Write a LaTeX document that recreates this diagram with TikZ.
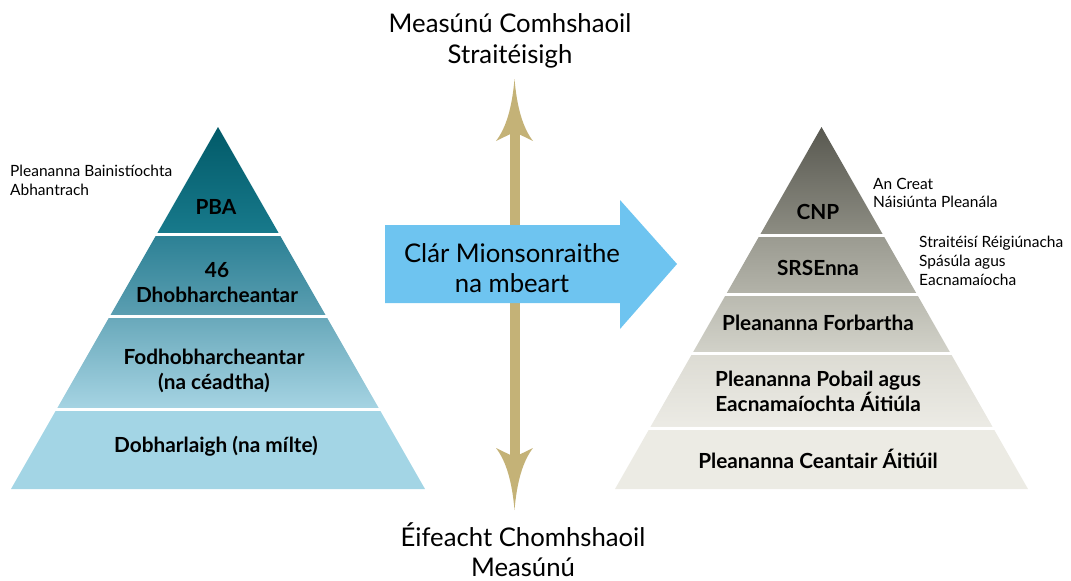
\documentclass[tikz,border=0pt]{standalone}
\usepackage{fontspec}
\setmainfont{Lato}
\definecolor{tan}{HTML}{C4B277}
\definecolor{skyb}{HTML}{6EC4F0}
\definecolor{la1}{HTML}{005866}
\definecolor{la2}{HTML}{187A8C}
\definecolor{lb1}{HTML}{2B8094}
\definecolor{lb2}{HTML}{5C9FB2}
\definecolor{lc1}{HTML}{68A8BA}
\definecolor{lc2}{HTML}{A6D4E3}
\definecolor{ld}{HTML}{A3D5E5}
\definecolor{ra1}{HTML}{55554D}
\definecolor{ra2}{HTML}{8D8D83}
\definecolor{rb1}{HTML}{9A9A90}
\definecolor{rb2}{HTML}{B3B3A9}
\definecolor{rc1}{HTML}{B9B9AF}
\definecolor{rc2}{HTML}{D2D2C9}
\definecolor{rd1}{HTML}{DCDBD3}
\definecolor{rd2}{HTML}{ECEBE5}
\definecolor{re}{HTML}{ECEBE4}
\begin{document}
\begin{tikzpicture}[x=1pt,y=-1pt,
  lvl/.style={font=\bfseries\fontsize{20.8}{25}\selectfont, align=center, inner sep=0pt, text=black},
  side/.style={font=\fontsize{15.5}{18.8}\selectfont, align=left, inner sep=0pt, anchor=west},
  big/.style={font=\fontsize{25.7}{30.5}\selectfont, align=center, inner sep=0pt},
  sep/.style={draw=white, line width=3pt}]
\useasboundingbox (0,0) rectangle (1071,581);

% ---------- left pyramid ----------
\begin{scope}
\clip (218,127) -- (425,489) -- (11,489) -- cycle;
\shade[top color=la1, bottom color=la2] (0,120) rectangle (440,234);
\shade[top color=lb1, bottom color=lb2] (0,234) rectangle (440,316);
\shade[top color=lc1, bottom color=lc2] (0,316) rectangle (440,409);
\fill[ld] (0,409) rectangle (440,495);
\end{scope}
\draw[sep] (0,234.5) -- (440,234.5);
\draw[sep] (0,316) -- (440,316);
\draw[sep] (0,409) -- (440,409);

\node[lvl] (pba) at (216,207) {PBA};
\node[lvl] (dhob) at (217,283) {46\\Dhobharcheantar};
\node[lvl] (fodh) at (214,371) {Fodhobharcheantar\\(na céadtha)};
\node[lvl] (dobh) at (216,446) {Dobharlaigh (na mílte)};
\node[side] (pbalbl) at (10,180) {Pleananna Bainistíochta\\Abhantrach};

% ---------- right pyramid ----------
\begin{scope}
\clip (821.5,127) -- (1028,489) -- (615,489) -- cycle;
\shade[top color=ra1, bottom color=ra2] (600,120) rectangle (1040,235);
\shade[top color=rb1, bottom color=rb2] (600,235) rectangle (1040,294);
\shade[top color=rc1, bottom color=rc2] (600,294) rectangle (1040,353);
\shade[top color=rd1, bottom color=rd2] (600,353) rectangle (1040,428);
\fill[re] (600,428) rectangle (1040,495);
\end{scope}
\draw[sep] (600,235) -- (1040,235);
\draw[sep] (600,294) -- (1040,294);
\draw[sep] (600,353) -- (1040,353);
\draw[sep] (600,428) -- (1040,428);

\node[lvl] (cnp) at (818,212) {CNP};
\node[lvl] (srse) at (818,268) {SRSEnna};
\node[lvl] (forb) at (818,323) {Pleananna Forbartha};
\node[lvl] (pobl) at (818,391) {Pleananna Pobail agus\\Eacnamaíochta Áitiúla};
\node[lvl] (cean) at (818,459) {Pleananna Ceantair Áitiúil};
\node[side] (cnplbl) at (873,193) {An Creat\\Náisiúnta Pleanála};
\node[side] (srselbl) at (919,261) {Straitéisí Réigiúnacha\\Spásúla agus\\Eacnamaíocha};

% ---------- vertical double arrow ----------
\coordinate (ttip) at (514.5,79);
\coordinate (btip) at (514.5,510);
\fill[tan] (509.5,130) rectangle (519.5,460);
\fill[tan] (ttip) .. controls (517,108) and (523,128) .. (533,141) -- (514.5,132) -- (496,141) .. controls (506,128) and (512,108) .. (ttip) -- cycle;
\fill[tan] (btip) .. controls (517,481) and (523,461) .. (533,448) -- (514.5,457) -- (496,448) .. controls (506,461) and (512,481) .. (btip) -- cycle;

\node[big] (sea) at (510,41) {Measúnú Comhshaoil\\Straitéisigh};
\node[big, anchor=south] (eia) at (523,577) {Éifeacht Chomhshaoil\\Measúnú};

% ---------- blue arrow ----------
\fill[skyb] (385,225) -- (620,225) -- (620,200) -- (677,264) -- (620,329) -- (620,303) -- (385,303) -- cycle;
\node[big] (clar) at (512,268) {Clár Mionsonraithe\\na mbeart};
\end{tikzpicture}
\end{document}
